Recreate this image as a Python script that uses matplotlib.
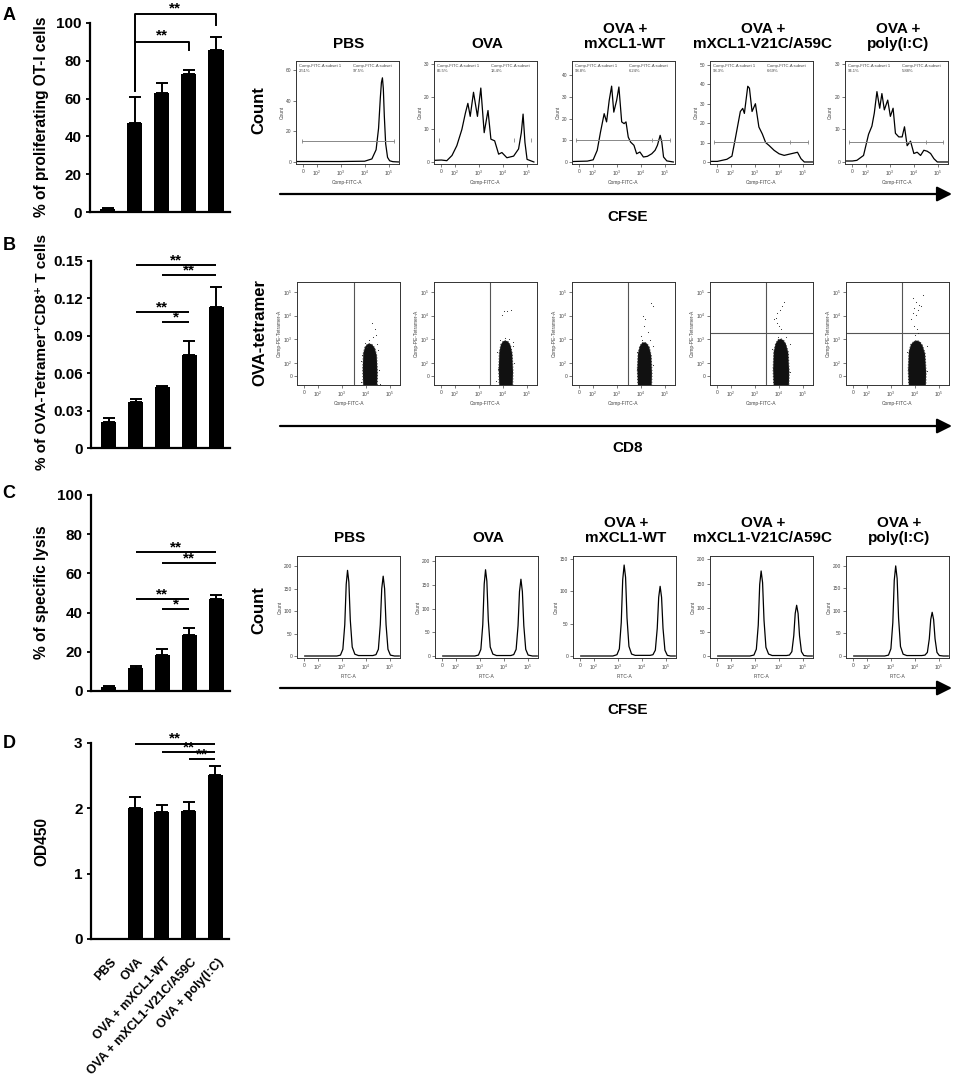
import matplotlib
matplotlib.use("Agg")
import matplotlib.pyplot as plt
import matplotlib.transforms as mtransforms
import numpy as np

plt.rcParams['font.family'] = ['Liberation Sans', 'DejaVu Sans']
plt.rcParams['font.weight'] = 'bold'
plt.rcParams['mathtext.default'] = 'regular'

W, H = 957, 1084

groups = ["PBS", "OVA", "OVA + mXCL1-WT", "OVA + mXCL1-V21C/A59C", "OVA + poly(I:C)"]
flow_titles = ["PBS", "OVA", "OVA +\nmXCL1-WT", "OVA +\nmXCL1-V21C/A59C", "OVA +\npoly(I:C)"]

# bar chart data (mean, upper error)
prolif_mean = [1.5, 47, 63, 73, 85.5]
prolif_err = [0.5, 14, 5, 2, 7]
tetramer_mean = [0.021, 0.037, 0.049, 0.075, 0.113]
tetramer_err = [0.003, 0.002, 0.001, 0.011, 0.016]
lysis_mean = [2, 11.5, 18.5, 28.5, 47]
lysis_err = [0.5, 1.2, 3, 3.5, 2]
od_mean = [0, 2.0, 1.95, 1.96, 2.51]
od_err = [0, 0.17, 0.10, 0.14, 0.14]

# significance marks: (from, to, height, label) ; brackets also have leg ends
prolif_sig = [(1, 4, 104.5, 64, 99, "**"), (1, 3, 90, 64.5, 85.5, "**")]
tetramer_sig = [(1, 4, 0.1468, "**"), (2, 4, 0.139, "**"), (1, 3, 0.109, "**"), (2, 3, 0.101, "*")]
lysis_sig = [(1, 4, 70.7, "**"), (2, 4, 65.4, "**"), (1, 3, 46.7, "**"), (2, 3, 41.7, "*")]
od_sig = [(1, 4, 2.99, "**"), (2, 4, 2.86, "**"), (3, 4, 2.75, "**")]

# OT-I proliferation histograms (Comp-FITC-A, count)
prolif_x = [
    [-55, 0, 1000, 10000, 20000, 30000, 38000, 45000, 50000, 55000, 60000, 66000, 75000, 90000, 110000, 150000, 270000],
    [-55, 0, 41, 80, 123, 200, 280, 355, 445, 610, 890, 1230, 1700, 2450, 3240, 4640, 6800, 9300, 15000, 28600,
     46000, 60000, 71000, 85000, 104000, 200000],
    [-55, 0, 60, 105, 155, 212, 302, 380, 490, 617, 760, 1000, 1240, 1620, 2040, 2450, 3040, 3800, 5250, 6800,
     9300, 13000, 19000, 29000, 40000, 50000, 65000, 76000, 90000, 123000, 230000],
    [-55, 0, 72, 113, 156, 253, 318, 373, 516, 606, 778, 1075, 1500, 2090, 2870, 3980, 6460, 10500, 17000, 32000,
     61000, 85000, 117000, 270000],
    [-55, 0, 34, 84, 132, 182, 229, 295, 385, 475, 600, 830, 1070, 1390, 1740, 2400, 3310, 4150, 5360, 7400,
     10200, 14000, 19400, 26600, 36800, 50800, 70000, 97000, 270000],
]
prolif_counts = [
    [0.3, 0.3, 0.3, 0.5, 2, 8, 22, 42, 52, 55, 48, 30, 12, 3, 0.8, 0.2, 0],
    [0.5, 0.6, 0.4, 2, 5, 10, 15, 18, 14, 21.4, 14, 22.7, 9, 15.8, 7, 6.5, 2.4, 2.9, 1.3, 1.8, 4, 9, 14.7, 6, 0.8, 0],
    [0.2, 0.3, 0.4, 1, 5.4, 13.8, 22.3, 18.5, 28.5, 35, 23, 28.5, 34.6, 18.5, 17.7, 18.5, 11.5, 9.2, 7.7, 3.8,
     4.6, 2.3, 2.6, 3.8, 5.4, 7.7, 12.3, 9.2, 2.3, 0.5, 0],
    [0.3, 0.3, 1.4, 3, 12, 26, 27.6, 25, 39, 38, 26, 30, 18, 14.4, 10, 8.5, 6, 4.2, 3.4, 4.2, 5, 1.7, 0, 0],
    [0.3, 0.3, 0.5, 2, 8.5, 11, 15, 21.6, 16.5, 21, 16, 19, 14, 16.5, 8.8, 7.7, 7.7, 10.8, 5, 6.4, 2.6, 3, 2,
     3.6, 3.3, 2.6, 1, 0, 0],
]
prolif_ymax = [66, 31, 46.6, 52, 31]
prolif_yticks = [[0, 20, 40, 60], [0, 10, 20, 30], [0, 10, 20, 30, 40], [0, 10, 20, 30, 40, 50], [0, 10, 20, 30]]
prolif_gate_y = [14, 6.8, 10, 10.5, 6.2]
prolif_gate_x = [[-13, 161000], [-17, 30300, 152000], [-23, 28600, 166000], [-25, 29200, 171000], [-23, 31400, 171000]]
prolif_subset1 = ["2.51%", "86.5%", "93.8%", "93.3%", "94.1%"]
prolif_subset2 = ["97.5%", "13.4%", "6.24%", "6.69%", "5.88%"]

# tetramer dot plots: dense population outline and sparse events (Comp-FITC-A, Comp-PE-A)
blob_x = [
    [8000, 7600, 8000, 9500, 12000, 15000, 19000, 24000, 29000, 31000, 30000],
    [7300, 6900, 7300, 8500, 10500, 13500, 17000, 21000, 25000, 27000, 26000],
    [7800, 7300, 7800, 9200, 11500, 14500, 18500, 23000, 27500, 29500, 28500],
    [6300, 5900, 6300, 7500, 9500, 12500, 16000, 20000, 25000, 27500, 26500],
    [5800, 5400, 5800, 7000, 9500, 12500, 16500, 21000, 27000, 30000, 29000],
]
blob_y = [
    [-100, 50, 250, 480, 620, 650, 580, 420, 200, 20, -100],
    [-100, 50, 280, 600, 820, 870, 780, 560, 250, 30, -100],
    [-100, 50, 250, 500, 700, 740, 650, 450, 200, 20, -100],
    [-100, 50, 300, 650, 950, 1030, 900, 620, 280, 30, -100],
    [-100, 50, 300, 600, 820, 880, 780, 550, 250, 30, -100],
]
event_x = [
    [13300, 20300, 28200, 24000, 18500, 11700, 33000, 7000, 35500, 6600, 38000, 6200, 31000, 9000],
    [9700, 11500, 15900, 22000, 6000, 28300, 6500, 29000, 12000, 18000, 8000, 26000, 5500],
    [12300, 14500, 13500, 28000, 33000, 20000, 10500, 6800, 32000, 7000, 34000, 11000, 24000],
    [7600, 8900, 11000, 14400, 17000, 10400, 12200, 8300, 6500, 5500, 30000, 5800, 31000, 9500, 20000],
    [8300, 11500, 15800, 9700, 13400, 18600, 8300, 11500, 21900, 7100, 9700, 12600, 10500, 14000, 5000,
     33000, 5200, 34000],
]
event_y = [
    [900, 1200, 1500, 2700, 5000, 470, 340, 210, 47, -48, -62, 120, 600, 700],
    [11200, 15500, 15500, 18200, 300, 500, 50, 100, 1100, 1000, 950, 800, -40],
    [9600, 6900, 3700, 34000, 24600, 1950, 1420, 300, 500, 50, 80, 950, 900],
    [8100, 13200, 18200, 24600, 40000, 3700, 2700, 5000, 6900, 400, 600, 60, 30, 1300, 1200],
    [55000, 40000, 29000, 21000, 18200, 24600, 13200, 11200, 76000, 6900, 3700, 2700, 1500, 1900, 300,
     500, 50, 40],
]
tetramer_vgate = [3380, 3030, 3100, 3030, 3100]
tetramer_hgate = [None, None, None, 1870, 1870]

# in vivo CTL histograms (log10 FITC-A, count)
ctl_dec = [
    [0.5, 2.8, 2.95, 3.05, 3.13, 3.19, 3.245, 3.3, 3.36, 3.44, 3.55, 3.7, 4.1, 4.3, 4.43, 4.53, 4.61, 4.67, 4.73,
     4.79, 4.85, 4.93, 5.03, 5.2, 5.4],
    [0.5, 2.8, 2.95, 3.05, 3.13, 3.19, 3.245, 3.3, 3.36, 3.44, 3.55, 3.7, 4.1, 4.3, 4.42, 4.52, 4.6, 4.66, 4.72,
     4.78, 4.84, 4.92, 5.02, 5.2, 5.4],
    [0.5, 2.8, 2.97, 3.07, 3.15, 3.21, 3.27, 3.33, 3.39, 3.47, 3.58, 3.73, 4.1, 4.35, 4.47, 4.57, 4.65, 4.71, 4.77,
     4.83, 4.89, 4.97, 5.07, 5.2, 5.4],
    [0.5, 2.8, 2.97, 3.07, 3.15, 3.21, 3.27, 3.33, 3.39, 3.47, 3.58, 3.73, 4.1, 4.33, 4.45, 4.55, 4.63, 4.69, 4.75,
     4.81, 4.87, 4.95, 5.05, 5.2, 5.4],
    [0.5, 2.75, 2.91, 3.01, 3.09, 3.15, 3.21, 3.27, 3.33, 3.41, 3.52, 3.67, 4.1, 4.3, 4.43, 4.53, 4.61, 4.67, 4.73,
     4.79, 4.85, 4.93, 5.03, 5.2, 5.4],
]
ctl_counts = [
    [0, 0, 2, 15, 70, 160, 191, 165, 80, 20, 4, 1, 1, 1, 3, 15, 70, 150, 178, 150, 70, 15, 2, 0, 0],
    [0, 0, 2, 14, 66, 152, 182, 158, 76, 19, 4, 1, 1, 1, 3, 14, 64, 136, 162, 136, 64, 14, 2, 0, 0],
    [0, 0, 2, 11, 52, 118, 141, 122, 59, 15, 3, 1, 1, 1, 2, 9, 43, 91, 108, 91, 43, 9, 1, 0, 0],
    [0, 0, 2, 14, 64, 148, 176, 152, 74, 18, 4, 1, 1, 1, 2, 9, 42, 88, 105, 88, 42, 9, 1, 0, 0],
    [0, 0, 2, 16, 74, 168, 200, 172, 84, 21, 4, 1, 1, 1, 2, 8, 38, 81, 97, 81, 38, 8, 1, 0, 0],
]
ctl_ymax = [223, 211, 155, 207, 222]
ctl_yticks = [[0, 50, 100, 150, 200], [0, 50, 100, 150, 200], [0, 50, 100, 150],
              [0, 50, 100, 150, 200], [0, 50, 100, 150, 200]]

flow_ticks = [0, 1e2, 1e3, 1e4, 1e5]
flow_ticklabels = ['0', '$10^2$', '$10^3$', '$10^4$', '$10^5$']

fig = plt.figure(figsize=(W / 100, H / 100), dpi=100)


def px_axes(left, top, width, height):
    return fig.add_axes([left / W, 1 - (top + height) / H, width / W, height / H])


def bar_panel(ax, means, errs, ymax, yticks, yticklabels):
    x = np.arange(len(means))
    ax.bar(x, means, width=0.56, color='black', zorder=2)
    ax.errorbar(x, means, yerr=[np.zeros(len(errs)), errs], fmt='none', ecolor='black',
                elinewidth=1.4, capsize=4.5, capthick=1.4, zorder=3)
    ax.set_xlim(-0.66, 4.52)
    ax.set_ylim(0, ymax)
    ax.set_yticks(yticks)
    ax.set_yticklabels(yticklabels)
    for s in ['top', 'right']:
        ax.spines[s].set_visible(False)
    for s in ['left', 'bottom']:
        ax.spines[s].set_linewidth(1.6)
    ax.tick_params(axis='y', length=3, width=1.3, labelsize=11, pad=3)
    ax.tick_params(axis='x', length=0, labelbottom=False)
    ax.set_xticks(x)


def sig_lines(ax, sig):
    for i, j, y, lab in sig:
        ax.plot([i, j], [y, y], color='black', lw=1.4, clip_on=False, solid_capstyle='butt')
        ax.annotate(lab, xy=((i + j) / 2, y), xytext=(0, 0.5), textcoords='offset points',
                    ha='center', va='baseline', fontsize=11, annotation_clip=False)


def flow_frame(ax, xlabel, ylabel):
    ax.set_xscale('symlog', linthresh=100, linscale=0.5)
    ax.set_xlim(-55, 270000)
    ax.set_xticks(flow_ticks)
    ax.set_xticklabels(flow_ticklabels)
    for s in ax.spines.values():
        s.set_linewidth(0.7)
        s.set_color('#333333')
    ax.tick_params(which='major', length=2, width=0.5, labelsize=3.5, pad=1.5, colors='#444444')
    ax.tick_params(which='minor', length=1, width=0.4, colors='#444444')
    ax.set_xlabel(xlabel, fontsize=3.5, fontweight='normal', labelpad=1, color='#444444')
    ax.set_ylabel(ylabel, fontsize=3.5, fontweight='normal', labelpad=1, color='#444444')
    for t in ax.get_xticklabels() + ax.get_yticklabels():
        t.set_fontweight('normal')


# ---------- left bar charts ----------
axA = px_axes(90, 23, 140, 189)
bar_panel(axA, prolif_mean, prolif_err, 100, [0, 20, 40, 60, 80, 100], ['0', '20', '40', '60', '80', '100'])
for i, j, y, li, lj, lab in prolif_sig:
    axA.plot([i, i, j, j], [li, y, y, lj], color='black', lw=1.4, clip_on=False)
    axA.annotate(lab, xy=((i + j) / 2, y), xytext=(0, 1.5), textcoords='offset points',
                 ha='center', va='baseline', fontsize=11, annotation_clip=False)

axB = px_axes(91, 261, 139, 187)
bar_panel(axB, tetramer_mean, tetramer_err, 0.15, [0, 0.03, 0.06, 0.09, 0.12, 0.15],
          ['0', '0.03', '0.06', '0.09', '0.12', '0.15'])
sig_lines(axB, tetramer_sig)

axC = px_axes(91, 495, 139, 196)
bar_panel(axC, lysis_mean, lysis_err, 100, [0, 20, 40, 60, 80, 100], ['0', '20', '40', '60', '80', '100'])
sig_lines(axC, lysis_sig)

axD = px_axes(91, 743, 138, 196)
bar_panel(axD, od_mean, od_err, 3, [0, 1, 2, 3], ['0', '1', '2', '3'])
sig_lines(axD, od_sig)
axD.tick_params(axis='x', labelbottom=True, pad=0)
axD.set_xticklabels(groups, rotation=47, ha='right', va='top', rotation_mode='anchor', fontsize=9)
shift = mtransforms.ScaledTranslation(2 / 100, -17 / 100, fig.dpi_scale_trans)
for t in axD.get_xticklabels():
    t.set_transform(t.get_transform() + shift)

fig.text(42 / W, 1 - 117 / H, "% of proliferating OT-I cells", rotation=90, ha='center', va='center', fontsize=11.2)
fig.text(42 / W, 1 - 352 / H, "% of OVA-Tetramer\u207aCD8\u207a T cells", rotation=90, ha='center', va='center',
         fontsize=11)
fig.text(42 / W, 1 - 592 / H, "% of specific lysis", rotation=90, ha='center', va='center', fontsize=11.2)
fig.text(42 / W, 1 - 841 / H, "OD450", rotation=90, ha='center', va='center', fontsize=11.2)

for lab, y in zip("ABCD", [15, 246, 493, 744]):
    fig.text(9 / W, 1 - y / H, lab, ha='center', va='center', fontsize=13)

# ---------- flow cytometry rows ----------
lefts_a = [296, 434, 572, 710, 845]
lefts_b = [297, 434, 572, 710, 846]
lefts_c = [297, 435, 573, 710, 846]

for k in range(5):
    ax = px_axes(lefts_a[k], 61, 103, 103)
    ax.plot(prolif_x[k], prolif_counts[k], color='black', lw=0.9)
    ymax = prolif_ymax[k]
    ax.set_ylim(-0.02 * ymax, ymax)
    ax.set_yticks(prolif_yticks[k])
    flow_frame(ax, "Comp-FITC-A", "Count")
    gx = prolif_gate_x[k]
    gy = prolif_gate_y[k]
    if k != 1:
        ax.plot([gx[0], gx[-1]], [gy, gy], color='#888888', lw=0.7)
    ax.plot(gx, [gy] * len(gx), ls='none', marker='|', ms=3, color='#888888', mew=0.6)
    ax.text(0.03, 0.97, "Comp-FITC-A subset 1\n" + prolif_subset1[k], transform=ax.transAxes, ha='left', va='top',
            fontsize=3, fontweight='normal', color='#444444')
    ax.text(0.55, 0.97, "Comp-FITC-A subset\n" + prolif_subset2[k], transform=ax.transAxes, ha='left', va='top',
            fontsize=3, fontweight='normal', color='#444444')
    fig.text((lefts_a[k] + 53) / W, 1 - 51 / H, flow_titles[k], ha='center', va='bottom', fontsize=11,
             linespacing=1.05)

for k in range(5):
    ax = px_axes(lefts_b[k], 282, 103, 103)
    ax.fill(blob_x[k], blob_y[k], color='#111111', lw=0.8, ls=':', ec='#333333', zorder=2)
    ax.scatter(event_x[k], event_y[k], s=0.6, color='#222222', lw=0, zorder=3)
    ax.axvline(tetramer_vgate[k], color='#555555', lw=0.8)
    if tetramer_hgate[k] is not None:
        ax.axhline(tetramer_hgate[k], color='#555555', lw=0.8)
    ax.set_yscale('symlog', linthresh=100, linscale=0.5)
    ax.set_ylim(-70, 270000)
    ax.set_yticks(flow_ticks)
    ax.set_yticklabels(flow_ticklabels)
    flow_frame(ax, "Comp-FITC-A", "Comp-PE-Tetramer-A")

for k in range(5):
    ax = px_axes(lefts_c[k], 556, 103, 102)
    ax.plot(10 ** np.array(ctl_dec[k]), ctl_counts[k], color='black', lw=0.9)
    ymax = ctl_ymax[k]
    ax.set_ylim(-0.02 * ymax, ymax)
    ax.set_yticks(ctl_yticks[k])
    flow_frame(ax, "FITC-A", "Count")
    fig.text((lefts_c[k] + 53) / W, 1 - 545 / H, flow_titles[k], ha='center', va='bottom', fontsize=11,
             linespacing=1.05)

# row labels and arrows
over = fig.add_axes([0, 0, 1, 1], facecolor='none')
over.set_xlim(0, W)
over.set_ylim(H, 0)
over.axis('off')
for y_arrow, y_lab, lab in [(194, 217, "CFSE"), (426, 448, "CD8"), (688, 710, "CFSE")]:
    over.annotate('', xy=(952, y_arrow), xytext=(280, y_arrow),
                  arrowprops=dict(arrowstyle='-|>,head_length=0.9,head_width=0.45', lw=1.6, color='black',
                                  shrinkA=0, shrinkB=0, mutation_scale=10))
    over.text(628, y_lab, lab, ha='center', va='center', fontsize=11)
over.text(259, 110, "Count", rotation=90, ha='center', va='center', fontsize=12)
over.text(260, 333, "OVA-tetramer", rotation=90, ha='center', va='center', fontsize=12)
over.text(259, 610, "Count", rotation=90, ha='center', va='center', fontsize=12)

fig.savefig("out.png", dpi=100)
